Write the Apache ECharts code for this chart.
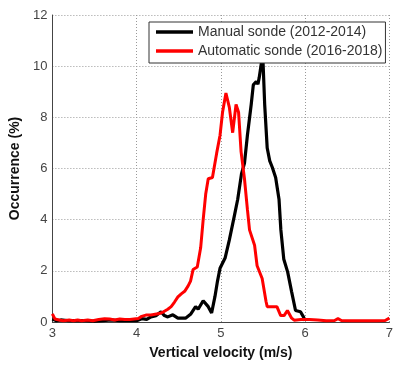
<!DOCTYPE html>
<html>
<head>
<meta charset="utf-8">
<script src="https://cdn.jsdelivr.net/npm/echarts@6/dist/echarts.min.js"></script>
<style>
html,body{margin:0;padding:0;background:#fff;}
#chart{width:396px;height:365px;}
</style>
</head>
<body>
<div id="chart"></div>
<script>
var manualX = [3.0,3.05,3.1,3.2,3.3,3.4,3.5,3.6,3.7,3.8,3.9,4.0,4.06,4.12,4.17,4.23,4.29,4.33,4.37,4.43,4.49,4.58,4.64,4.7,4.73,4.79,4.85,4.89,4.93,4.96,4.99,5.05,5.1,5.16,5.2,5.245,5.28,5.315,5.36,5.385,5.42,5.44,5.455,5.48,5.5,5.52,5.55,5.58,5.61,5.65,5.69,5.712,5.747,5.793,5.84,5.886,5.945,5.98,6.0];
var manualY = [0.12,0.05,0.08,0.05,0.05,0.05,0.03,0.05,0.08,0.05,0.05,0.05,0.13,0.1,0.2,0.25,0.4,0.25,0.2,0.28,0.15,0.15,0.3,0.6,0.5,0.83,0.6,0.35,1.0,1.6,2.1,2.5,3.2,4.15,4.8,5.8,6.2,7.3,8.5,9.27,9.4,9.3,9.55,10.1,10.2,8.5,6.8,6.3,6.05,5.65,4.8,3.6,2.45,1.95,1.18,0.45,0.4,0.2,0.05];

var autoX = [3.0,3.03,3.08,3.13,3.2,3.25,3.3,3.35,3.42,3.48,3.55,3.62,3.68,3.74,3.8,3.86,3.92,3.97,4.02,4.06,4.11,4.17,4.22,4.27,4.32,4.37,4.41,4.45,4.49,4.53,4.57,4.61,4.64,4.67,4.72,4.76,4.79,4.82,4.85,4.9,4.95,4.99,5.02,5.06,5.1,5.14,5.18,5.21,5.24,5.28,5.315,5.34,5.4,5.43,5.49,5.536,5.55,5.6,5.665,5.71,5.75,5.79,5.84,5.87,5.95,6.05,6.15,6.25,6.35,6.39,6.43,6.55,6.7,6.85,6.95,7.0];
var autoY = [0.32,0.12,0.08,0.05,0.08,0.05,0.08,0.05,0.08,0.05,0.1,0.13,0.12,0.08,0.12,0.1,0.1,0.12,0.14,0.22,0.27,0.27,0.3,0.33,0.4,0.5,0.6,0.78,0.98,1.1,1.2,1.4,1.6,2.05,2.15,2.9,4.0,5.0,5.6,5.65,6.6,7.3,8.2,8.95,8.4,7.4,8.5,8.2,6.65,5.6,4.4,3.6,3.0,2.2,1.7,0.8,0.6,0.6,0.6,0.25,0.25,0.45,0.15,0.07,0.1,0.1,0.08,0.05,0.06,0.13,0.06,0.05,0.05,0.05,0.06,0.15];

var xTicks = [3,4,5,6,7];
var yTicks = [0,2,4,6,8,10,12];
var seriesNames = ['Manual sonde (2012-2014)','Automatic sonde (2016-2018)'];

function pairs(xs, ys){ return xs.map(function(x,i){ return [x, ys[i]]; }); }

var font = 'Liberation Sans, Arial, sans-serif';
var chart = echarts.init(document.getElementById('chart'), null, {renderer:'canvas'});
chart.setOption({
  animation:false,
  backgroundColor:'#fff',
  grid:{left:50, right:3.5, top:15, bottom:42, containLabel:false},
  legend:{
    orient:'vertical', left:149, top:22,
    data:seriesNames,
    icon:'rect', itemWidth:37, itemHeight:3.5, itemGap:5,
    backgroundColor:'#fff', borderColor:'#333', borderWidth:1,
    padding:[3,3,5,7],
    textStyle:{fontFamily:font, fontSize:14, color:'#333', lineHeight:14}
  },
  xAxis:{
    type:'value', min:xTicks[0], max:xTicks[xTicks.length-1], interval:1,
    name:'Vertical velocity (m/s)', nameLocation:'middle', nameGap:24,
    nameTextStyle:{fontFamily:font, fontSize:14, fontWeight:'bold', color:'#111'},
    axisLine:{show:true, onZero:false, lineStyle:{color:'#444', width:1}},
    axisTick:{show:false},
    axisLabel:{margin:5, fontFamily:font, fontSize:13, color:'#444'},
    splitLine:{show:true, lineStyle:{color:'#999', type:[1,2], width:1}}
  },
  yAxis:{
    type:'value', min:yTicks[0], max:yTicks[yTicks.length-1], interval:2,
    name:'Occurrence (%)', nameLocation:'middle', nameGap:25,
    nameTextStyle:{fontFamily:font, fontSize:14, fontWeight:'bold', color:'#111'},
    axisLine:{show:true, lineStyle:{color:'#444', width:1}},
    axisTick:{show:false},
    axisLabel:{margin:5, fontFamily:font, fontSize:13, color:'#444'},
    splitLine:{show:true, lineStyle:{color:'#999', type:[1,2], width:1}}
  },
  series:[
    {name:seriesNames[0], type:'line', data:pairs(manualX, manualY), showSymbol:false, symbol:'none',
     lineStyle:{color:'#000', width:3.2}, itemStyle:{color:'#000'}, z:2},
    {name:seriesNames[1], type:'line', data:pairs(autoX, autoY), showSymbol:false, symbol:'none',
     lineStyle:{color:'#ff0000', width:3}, itemStyle:{color:'#ff0000'}, z:3}
  ]
});
</script>
</body>
</html>
